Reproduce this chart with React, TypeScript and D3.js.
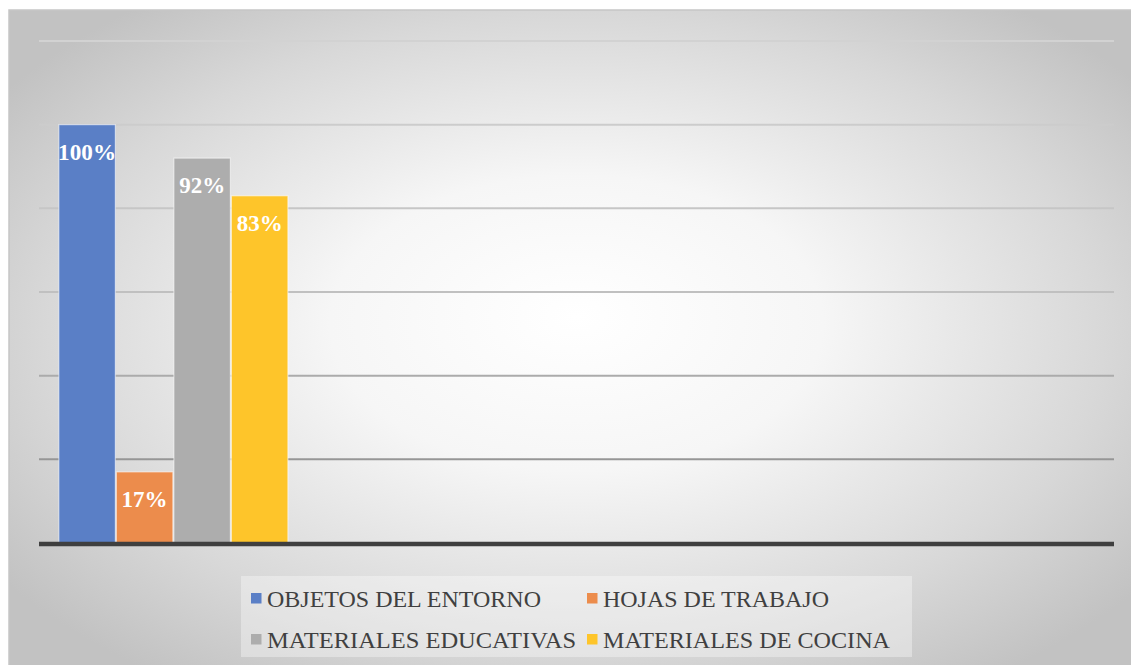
import React from "react";
import * as d3 from "d3";

const categories = ["c1", "c2", "c3", "c4"];
const seriesNames = [
  "OBJETOS DEL ENTORNO",
  "HOJAS DE TRABAJO",
  "MATERIALES EDUCATIVAS",
  "MATERIALES DE COCINA",
];
const seriesColors = ["#5A7FC6", "#EC8C4C", "#ADADAD", "#FEC52A"];
const seriesValues = [[1.0], [0.17], [0.92], [0.83]];
const yTicks = [0, 0.2, 0.4, 0.6, 0.8, 1.0, 1.2];

const W = 1131;
const H = 665;
const plot = { left: 39, right: 1114, top: 41, bottom: 543 };
const FONT = "Liberation Serif, Times New Roman, Liberation Sans, Arial, sans-serif";

// measured widths of legend texts in the reference (layout only)
const legendTextWidths = [274, 226, 309, 287];

export default function App() {
  const x = d3.scaleBand<string>().domain(categories).range([plot.left, plot.right]).padding(0);
  const groupW = x.bandwidth() * 0.856;
  const x1 = d3.scaleBand<string>().domain(seriesNames).range([0, groupW]).padding(0);
  const y = d3.scaleLinear().domain([0, 1.2]).range([plot.bottom, plot.top]);
  const fmt = d3.format(".0%");

  const bars: any[] = [];
  const labels: any[] = [];
  seriesNames.forEach((s, si) => {
    seriesValues[si].forEach((v, ci) => {
      const cat = categories[ci];
      const bx = (x(cat) as number) + (x.bandwidth() - groupW) / 2 + (x1(s) as number);
      const bw = x1.bandwidth();
      bars.push(
        <rect
          key={`b${si}-${ci}`}
          x={bx + 0.5}
          y={y(v)}
          width={bw - 1}
          height={y(0) - y(v)}
          fill={seriesColors[si]}
          stroke="rgba(255,255,255,0.55)"
          strokeWidth={1.2}
        />
      );
      labels.push(
        <text
          key={`l${si}-${ci}`}
          x={bx + bw / 2}
          y={y(v) + 35}
          textAnchor="middle"
          textLength={58}
          lengthAdjust="spacingAndGlyphs"
          style={{ fontFamily: FONT, fontWeight: "bold", fontSize: "23px" }}
          fill="#ffffff"
        >
          {fmt(v)}
        </text>
      );
    });
  });
  // fix label widths: 3-char labels narrower
  const labelWidth = (v: number) => (fmt(v).length === 4 ? 58 : 46);

  const legendItems = [
    { name: seriesNames[0], color: seriesColors[0], x: 251, y: 593, w: legendTextWidths[0] },
    { name: seriesNames[1], color: seriesColors[1], x: 587, y: 593, w: legendTextWidths[1] },
    { name: seriesNames[2], color: seriesColors[2], x: 251, y: 634, w: legendTextWidths[2] },
    { name: seriesNames[3], color: seriesColors[3], x: 587, y: 634, w: legendTextWidths[3] },
  ];

  return (
    <svg width={W} height={H} style={{ position: "absolute", left: 0, top: 0, display: "block" }}>
      <defs>
        <radialGradient id="bg" cx="0.5" cy="0.48" r="0.62" fx="0.5" fy="0.45">
          <stop offset="0" stopColor="#ffffff" />
          <stop offset="0.35" stopColor="#f6f6f6" />
          <stop offset="0.75" stopColor="#d8d8d8" />
          <stop offset="1" stopColor="#c2c2c2" />
        </radialGradient>
        <linearGradient id="grid" gradientUnits="userSpaceOnUse" x1="0" y1={plot.top} x2="0" y2={plot.bottom - 83}>
          <stop offset="0" stopColor="#d2d2d2" />
          <stop offset="0.6" stopColor="#c0c0c0" />
          <stop offset="1" stopColor="#969696" />
        </linearGradient>
      </defs>
      <rect x={0} y={0} width={W} height={H} fill="#ffffff" />
      <rect x={9} y={10} width={1135} height={680} fill="url(#bg)" stroke="#c6c6c6" strokeWidth={1.5} />

      {yTicks
        .filter((t) => t > 0)
        .map((t) => (
          <line key={`g${t}`} x1={plot.left} x2={plot.right} y1={y(t)} y2={y(t)} stroke="url(#grid)" strokeWidth={2} />
        ))}

      {bars}

      <line x1={plot.left} x2={plot.right} y1={y(0) + 1} y2={y(0) + 1} stroke="#3f3f3f" strokeWidth={4.5} />

      {labels.map((l: any, i: number) =>
        React.cloneElement(l, { textLength: labelWidth(seriesValues[i][0]) })
      )}

      <rect x={241} y={576} width={671} height={81} fill="rgba(255,255,255,0.35)" />
      {legendItems.map((it) => (
        <g key={it.name}>
          <rect x={it.x} y={it.y} width={10.5} height={10.5} fill={it.color} />
          <text
            x={it.x + 16}
            y={it.y + 13.5}
            textLength={it.w}
            lengthAdjust="spacingAndGlyphs"
            style={{ fontFamily: FONT, fontSize: "24px" }}
            fill="#404040"
          >
            {it.name}
          </text>
        </g>
      ))}
    </svg>
  );
}
